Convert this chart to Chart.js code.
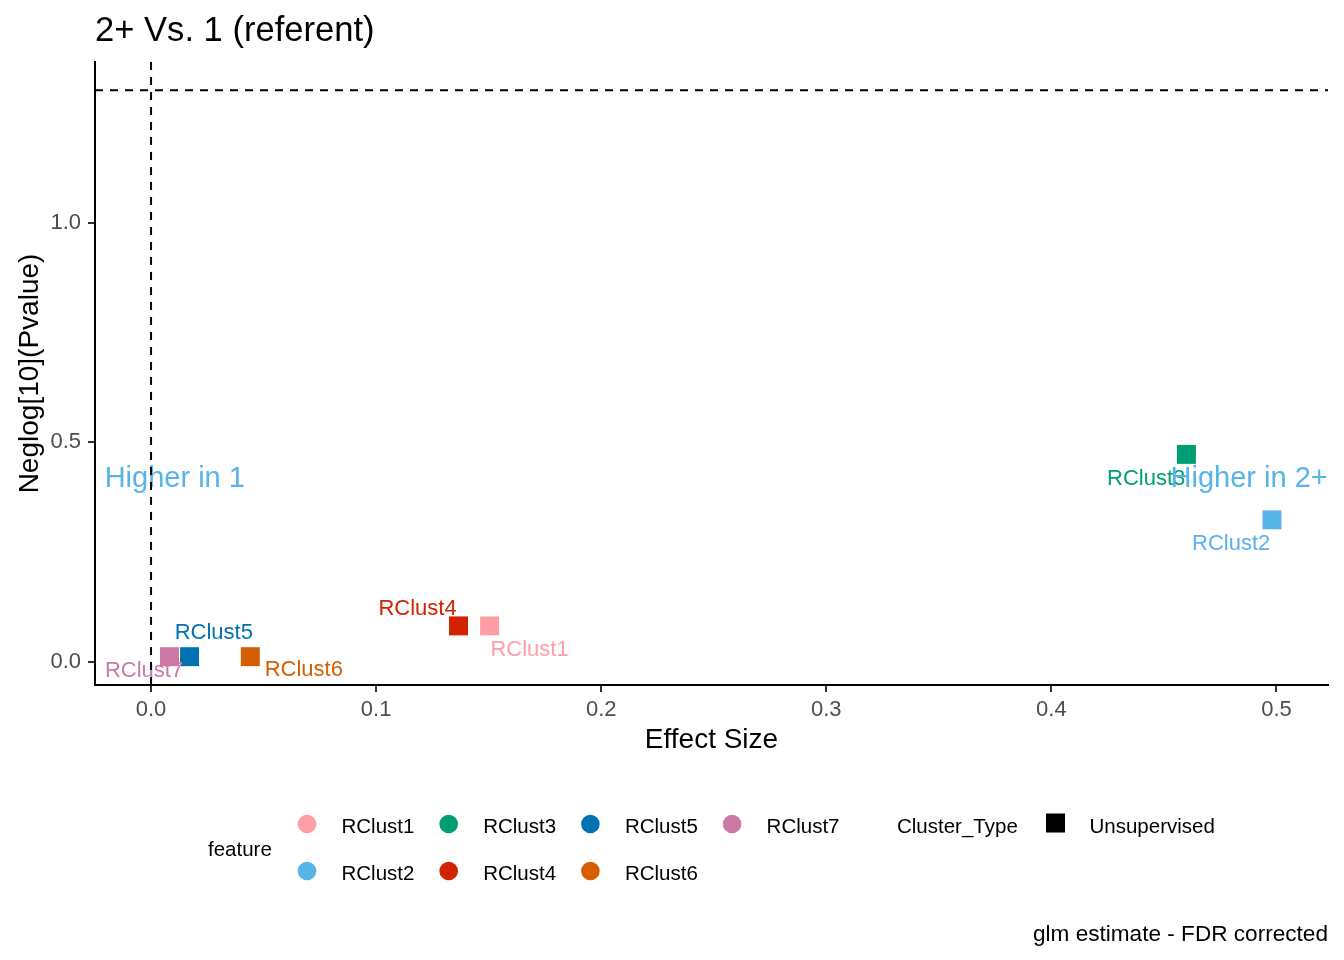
<!DOCTYPE html>
<html><head><meta charset="utf-8">
<script src="https://cdn.jsdelivr.net/npm/chart.js@4.4.1/dist/chart.umd.min.js"></script>
<style>html,body{margin:0;padding:0;background:#fff;overflow:hidden}canvas{display:block}</style>
</head><body>
<canvas id="c" width="1344" height="960"></canvas>
<script>
// ---- data ----
const features   = ['RClust1','RClust2','RClust3','RClust4','RClust5','RClust6','RClust7'];
const effectSize = [0.1504, 0.4980, 0.4600, 0.1366, 0.0171, 0.0441, 0.0082];
const negLogP    = [0.0815, 0.3230, 0.4720, 0.0815, 0.0114, 0.0114, 0.0114];
const xTicks = [0, 0.1, 0.2, 0.3, 0.4, 0.5];
const yTicks = [0, 0.5, 1.0];
const pThreshold = 0.05;
const clusterTypes = ['Unsupervised'];
const sideLabels = ['Higher in 1', 'Higher in 2+'];
const sideLabelX = [-0.0206, 0.5228];
const sideLabelY = [0.422, 0.422];
const titleText = '2+ Vs. 1 (referent)';
const captionText = 'glm estimate - FDR corrected';

// ---- styles ----
const colors = ['#FF9DA7','#56B4E9','#009E73','#D22300','#0072B2','#D55E00','#CC79A7'];
const labelOffsets = [[40,22.5],[-40.8,22.5],[-40.3,23],[-41,-18.5],[24.3,-25.3],[53.5,11.7],[-25.5,12.7]];
const FONT = '"Liberation Sans", Arial, Helvetica, sans-serif';

// ggplot-like expansion (5%)
const hLine = -Math.log10(pThreshold);
const xLo = Math.min(0, ...effectSize), xHi = Math.max(0, ...effectSize);
const yLo = Math.min(...negLogP, hLine), yHi = Math.max(...negLogP, hLine);
const xPad = (xHi - xLo) * 0.05, yPad = (yHi - yLo) * 0.05;

function txt(ctx, s, x, capCenterY, size, color, align) {
  ctx.save();
  ctx.font = size + 'px ' + FONT;
  ctx.fillStyle = color;
  ctx.textAlign = align || 'left';
  ctx.textBaseline = 'alphabetic';
  ctx.fillText(s, x, capCenterY + 0.358 * size);
  ctx.restore();
}

const decor = {
  id: 'decor',
  afterDatasetsDraw(chart) {
    const ctx = chart.ctx, xs = chart.scales.x, ys = chart.scales.y, ca = chart.chartArea;
    // point labels
    features.forEach((f, i) => {
      const px = xs.getPixelForValue(effectSize[i]), py = ys.getPixelForValue(negLogP[i]);
      txt(ctx, f, px + labelOffsets[i][0], py + labelOffsets[i][1], 22, colors[i], 'center');
    });
    // side labels
    sideLabels.forEach((s, i) => {
      txt(ctx, s, xs.getPixelForValue(sideLabelX[i]), ys.getPixelForValue(sideLabelY[i]), 29, '#56B4E9', i === 0 ? 'left' : 'right');
    });
    // dashed reference lines
    ctx.save();
    ctx.strokeStyle = '#000'; ctx.lineWidth = 2; ctx.setLineDash([8, 7]);
    const hy = ys.getPixelForValue(hLine);
    ctx.beginPath(); ctx.moveTo(ca.left, hy); ctx.lineTo(ca.right, hy); ctx.stroke();
    const vx = xs.getPixelForValue(0);
    ctx.beginPath(); ctx.moveTo(vx, ca.top); ctx.lineTo(vx, ca.bottom); ctx.stroke();
    ctx.restore();
  },
  afterDraw(chart) {
    const ctx = chart.ctx;
    // title
    txt(ctx, titleText, 95, 29, 34.6, '#000', 'left');
    // legend: feature
    txt(ctx, 'feature', 208, 849, 20.5, '#000', 'left');
    features.forEach((f, i) => {
      const col = Math.floor(i / 2), row = i % 2;
      const cx = 307 + col * 141.7, cy = 824 + row * 47;
      ctx.save();
      ctx.fillStyle = colors[i];
      ctx.beginPath(); ctx.arc(cx, cy, 9.3, 0, Math.PI * 2); ctx.fill();
      ctx.restore();
      txt(ctx, f, cx + 34.5, cy + 1.5, 20.5, '#000', 'left');
    });
    // legend: Cluster_Type
    txt(ctx, 'Cluster_Type', 897, 825.5, 20.5, '#000', 'left');
    clusterTypes.forEach((t, i) => {
      ctx.save(); ctx.fillStyle = '#000';
      ctx.fillRect(1046, 813.5 + i * 47, 19, 19);
      ctx.restore();
      txt(ctx, t, 1089.5, 825.5 + i * 47, 20.5, '#000', 'left');
    });
    // caption
    txt(ctx, captionText, 1328, 932.5, 22.6, '#000', 'right');
  }
};

new Chart(document.getElementById('c'), {
  type: 'scatter',
  data: {
    datasets: features.map((f, i) => ({
      label: f,
      data: [{ x: effectSize[i], y: negLogP[i] }],
      backgroundColor: colors[i],
      borderWidth: 0,
      pointStyle: 'rect',
      pointRadius: 13.4,
      pointHoverRadius: 13.4
    }))
  },
  options: {
    responsive: false,
    animation: false,
    events: [],
    layout: { padding: { left: 0, right: 16, top: 62, bottom: 0 } },
    plugins: { legend: { display: false }, tooltip: { enabled: false }, title: { display: false } },
    scales: {
      x: {
        type: 'linear', min: xLo - xPad, max: xHi + xPad,
        afterFit: s => { s.height = 275; },
        afterBuildTicks: s => { s.ticks = xTicks.map(v => ({ value: v })); },
        ticks: { callback: v => Number(v).toFixed(1), color: '#4D4D4D', font: { family: FONT, size: 22 }, padding: 5, maxRotation: 0, autoSkip: false },
        grid: { drawOnChartArea: false, drawTicks: true, tickLength: 7, color: '#333333', lineWidth: 2 },
        border: { display: true, color: '#000', width: 2 },
        title: { display: true, text: 'Effect Size', color: '#000', font: { family: FONT, size: 28 }, padding: { top: 0, bottom: 202.7 } }
      },
      y: {
        type: 'linear', min: yLo - yPad, max: yHi + yPad,
        afterFit: s => { s.width = 95; },
        afterBuildTicks: s => { s.ticks = yTicks.map(v => ({ value: v })); },
        ticks: { callback: v => Number(v).toFixed(1), color: '#4D4D4D', font: { family: FONT, size: 22 }, padding: 7, autoSkip: false },
        grid: { drawOnChartArea: false, drawTicks: true, tickLength: 7, color: '#333333', lineWidth: 2 },
        border: { display: true, color: '#000', width: 2 },
        title: { display: true, text: 'Neglog[10](Pvalue)', color: '#000', font: { family: FONT, size: 28 }, padding: { top: 13.2, bottom: 0 } }
      }
    }
  },
  plugins: [decor]
});
</script>
</body></html>
